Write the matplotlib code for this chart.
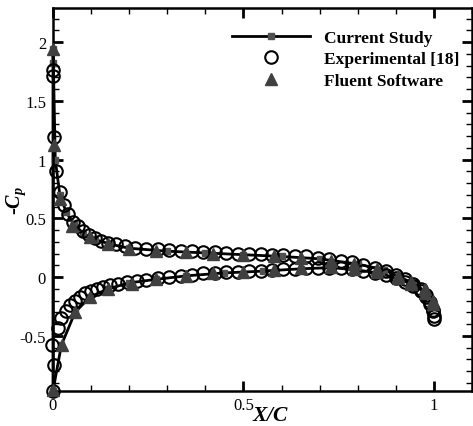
import matplotlib
matplotlib.use("Agg")
import matplotlib.pyplot as plt
from matplotlib.ticker import MultipleLocator
from matplotlib.lines import Line2D

plt.rcParams['font.family'] = ['Liberation Serif', 'DejaVu Serif']
plt.rcParams['mathtext.fontset'] = 'custom'
plt.rcParams['mathtext.rm'] = 'Liberation Serif'
plt.rcParams['mathtext.it'] = 'Liberation Serif:italic'
plt.rcParams['mathtext.bf'] = 'Liberation Serif:bold:italic'

# Current study (line)
cur_up_x = [0.0, 0.0, 0.001, 0.006, 0.018, 0.035, 0.055, 0.08, 0.11, 0.15, 0.2, 0.3, 0.4, 0.5,
            0.6, 0.7, 0.8, 0.87, 0.91, 0.95, 0.98, 1.0]
cur_up_y = [-0.97, 1.94, 1.82, 1.0, 0.7, 0.55, 0.45, 0.37, 0.32, 0.28, 0.245, 0.22, 0.205, 0.19,
            0.175, 0.155, 0.11, 0.06, 0.0, -0.06, -0.13, -0.25]
cur_lo_x = [0.0, 0.022, 0.058, 0.097, 0.145, 0.2, 0.27, 0.35, 0.45, 0.55, 0.65, 0.73, 0.8,
            0.86, 0.91, 0.95, 0.98, 1.0]
cur_lo_y = [-0.97, -0.58, -0.3, -0.17, -0.1, -0.05, -0.02, 0.01, 0.035, 0.05, 0.07, 0.08, 0.06,
            0.03, -0.02, -0.07, -0.14, -0.25]

# Experimental [18]
exp_up_x = [0.0, 0.001, 0.004, 0.009, 0.018, 0.028, 0.04, 0.053, 0.066, 0.08, 0.095, 0.11,
            0.125, 0.145, 0.165, 0.19, 0.215, 0.245, 0.275, 0.305, 0.335, 0.365, 0.395, 0.425,
            0.455, 0.485, 0.515, 0.545, 0.575, 0.605, 0.635, 0.665, 0.695, 0.725, 0.755, 0.785,
            0.815, 0.845, 0.875, 0.9, 0.925, 0.945, 0.965, 0.98, 0.99, 0.997, 1.0]
exp_up_y = [1.76, 1.71, 1.19, 0.90, 0.72, 0.61, 0.54, 0.47, 0.43, 0.39, 0.36, 0.33,
            0.31, 0.29, 0.28, 0.26, 0.25, 0.24, 0.235, 0.23, 0.225, 0.22, 0.215, 0.21,
            0.205, 0.2, 0.2, 0.195, 0.19, 0.185, 0.18, 0.175, 0.165, 0.155, 0.14, 0.125,
            0.105, 0.08, 0.05, 0.02, -0.02, -0.06, -0.1, -0.15, -0.21, -0.28, -0.33]
exp_lo_x = [0.0, 0.003, -0.003, 0.012, 0.022, 0.033, 0.045, 0.057, 0.07, 0.085, 0.1, 0.115,
            0.13, 0.15, 0.17, 0.195, 0.22, 0.245, 0.275, 0.305, 0.335, 0.365, 0.395, 0.425,
            0.455, 0.485, 0.515, 0.545, 0.575, 0.605, 0.635, 0.665, 0.695, 0.725, 0.755, 0.785,
            0.815, 0.845, 0.875, 0.9, 0.925, 0.945, 0.965, 0.98, 0.99, 0.997, 1.0]
exp_lo_y = [-0.97, -0.75, -0.58, -0.43, -0.35, -0.29, -0.24, -0.2, -0.17, -0.14, -0.12, -0.1,
            -0.085, -0.07, -0.06, -0.045, -0.035, -0.025, -0.01, 0.0, 0.01, 0.02, 0.03, 0.035,
            0.04, 0.045, 0.05, 0.055, 0.06, 0.065, 0.07, 0.075, 0.08, 0.08, 0.075, 0.065,
            0.05, 0.035, 0.015, -0.01, -0.04, -0.08, -0.12, -0.17, -0.23, -0.29, -0.36]

# Fluent Software
flu_up_x = [0.0, 0.002, 0.018, 0.05, 0.097, 0.145, 0.2, 0.27, 0.35, 0.42, 0.5, 0.58, 0.65,
            0.73, 0.79, 0.85, 0.905, 0.94, 0.976, 0.997]
flu_up_y = [1.94, 1.12, 0.66, 0.43, 0.34, 0.28, 0.24, 0.22, 0.21, 0.2, 0.19, 0.18, 0.16,
            0.14, 0.11, 0.07, 0.01, -0.04, -0.1, -0.2]
flu_lo_x = [0.0, 0.023, 0.058, 0.097, 0.145, 0.207, 0.27, 0.35, 0.42, 0.5, 0.58, 0.65, 0.73,
            0.79, 0.85, 0.905, 0.94, 0.976, 0.997]
flu_lo_y = [-0.96, -0.58, -0.3, -0.17, -0.1, -0.06, -0.02, 0.01, 0.03, 0.045, 0.06, 0.075,
            0.085, 0.07, 0.04, -0.01, -0.06, -0.14, -0.23]

x_ticks = [0, 0.5, 1]
x_tick_labels = ['0', '0.5', '1']
y_ticks = [-0.5, 0, 0.5, 1, 1.5, 2]
y_tick_labels = ['-0.5', '0', '0.5', '1', '1.5', '2']
series_labels = ['Current Study', 'Experimental [18]', 'Fluent Software']

fig = plt.figure(figsize=(4.73, 4.27), dpi=100)
ax = fig.add_axes([0.112, 0.082, 0.886, 0.897])

sq_color = '#505050'
tri_color = '#404040'
for xs, ys in [(cur_up_x, cur_up_y), (cur_lo_x, cur_lo_y)]:
    ax.plot(xs, ys, color='black', lw=2, marker='s', ms=5, mfc=sq_color, mec=sq_color,
            zorder=2, clip_on=False)
for xs, ys in [(exp_up_x, exp_up_y), (exp_lo_x, exp_lo_y)]:
    ax.plot(xs, ys, ls='none', marker='o', ms=9, mfc='none', mec='black', mew=1.5,
            zorder=3, clip_on=False)
for xs, ys in [(flu_up_x, flu_up_y), (flu_lo_x, flu_lo_y)]:
    ax.plot(xs, ys, ls='none', marker='^', ms=8, mfc=tri_color, mec=tri_color,
            zorder=4, clip_on=False)

ax.set_xlim(0, 1.1)
ax.set_ylim(-0.97, 2.29)
ax.set_xticks(x_ticks)
ax.set_xticklabels(x_tick_labels)
ax.set_yticks(y_ticks)
ax.set_yticklabels(y_tick_labels)
ax.xaxis.set_minor_locator(MultipleLocator(0.1))
ax.yaxis.set_minor_locator(MultipleLocator(0.1))
ax.tick_params(which='both', direction='in', top=True, right=True, labelsize=12)
ax.tick_params(axis='y', which='both', pad=5)
ax.tick_params(axis='x', which='both', pad=4)
ax.tick_params(which='major', length=7, width=2)
ax.tick_params(which='minor', length=4, width=1)
for s in ax.spines.values():
    s.set_linewidth(1.8)

ax.set_xlabel(r'$\mathbf{X/C}$', fontsize=15.5)
ax.xaxis.set_label_coords(0.52, -0.04, transform=ax.transAxes)
ax.xaxis.label.set_va('top')
ax.set_ylabel(r'-$\mathbf{C_p}$', fontsize=14.5, fontweight='bold')
ax.yaxis.set_label_coords(-0.088, 0.5, transform=ax.transAxes)
ax.yaxis.label.set_va('center')

handles = [
    Line2D([], [], color='black', lw=2, marker='s', ms=5, mfc=sq_color, mec=sq_color),
    Line2D([], [], ls='none', marker='o', ms=9, mfc='none', mec='black', mew=1.5),
    Line2D([], [], ls='none', marker='^', ms=8, mfc=tri_color, mec=tri_color),
]
leg = ax.legend(handles, series_labels, loc='upper left', bbox_to_anchor=(0.427, 0.943),
                borderaxespad=0, borderpad=0,
                frameon=False, handlelength=4.5, labelspacing=0.3, handletextpad=0.8,
                prop={'weight': 'bold', 'size': 12.5, 'family': 'Liberation Serif'})

fig.savefig('out.png', dpi=100)
